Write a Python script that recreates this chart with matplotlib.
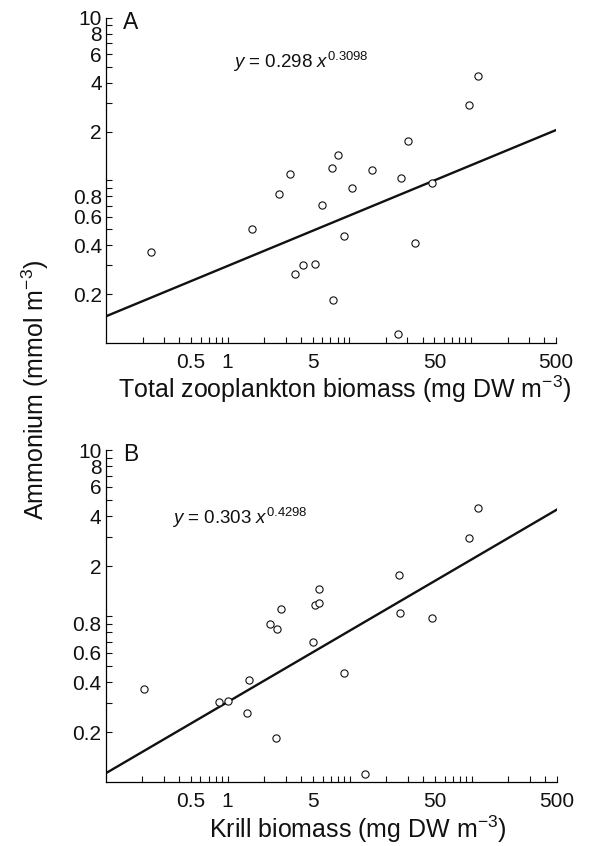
import matplotlib
matplotlib.use('Agg')
import matplotlib.pyplot as plt
import numpy as np

plt.rcParams['font.family'] = ['Liberation Sans', 'DejaVu Sans']
plt.rcParams['mathtext.fontset'] = 'custom'
plt.rcParams['mathtext.rm'] = 'Liberation Sans'
plt.rcParams['mathtext.it'] = 'Liberation Sans:italic'

# Panel A: total zooplankton biomass vs ammonium
zoo_x = [0.233, 1.58, 2.63, 3.26, 3.56, 4.20, 5.21, 5.98, 7.14, 7.32, 8.10,
         9.02, 10.56, 15.3, 25.2, 26.4, 30.5, 34.8, 48.0, 95.6, 113.4]
zoo_y = [0.365, 0.50, 0.826, 1.10, 0.264, 0.302, 0.308, 0.702, 1.19, 0.185, 1.44,
         0.455, 0.896, 1.16, 0.114, 1.04, 1.74, 0.414, 0.966, 2.93, 4.38]
zoo_fit = (0.298, 0.3098)

# Panel B: krill biomass vs ammonium
krill_x = [0.205, 0.857, 1.00, 1.43, 1.49, 2.23, 2.54, 2.72, 2.48, 4.97, 5.20,
           5.57, 5.57, 8.92, 13.4, 25.5, 25.9, 47.7, 95.2, 112.8]
krill_y = [0.362, 0.302, 0.306, 0.262, 0.412, 0.898, 0.830, 1.105, 0.183, 0.699, 1.168,
           1.20, 1.446, 0.454, 0.112, 1.756, 1.046, 0.966, 2.97, 4.48]
krill_fit = (0.303, 0.4298)

x_ticks = [0.2, 0.3, 0.4, 0.5, 0.6, 0.7, 0.8, 0.9, 1, 2, 3, 4, 5, 6, 7, 8, 9,
           10, 20, 30, 40, 50, 60, 70, 80, 90, 100, 200, 300, 400, 500]
x_labels = {0.5: '0.5', 1: '1', 5: '5', 50: '50', 500: '500'}
y_ticks = [0.2, 0.3, 0.4, 0.5, 0.6, 0.7, 0.8, 0.9, 1, 2, 3, 4, 5, 6, 7, 8, 9, 10]
y_labels = {0.2: '0.2', 0.4: '0.4', 0.6: '0.6', 0.8: '0.8',
            2: '2', 4: '4', 6: '6', 8: '8', 10: '10'}


def panel(ax, xs, ys, fit, letter, xlabel, eq_pos, labelpad, label_x, y8_at=0.8):
    a, b = fit
    xx = np.array([0.1, 500])
    ax.plot(xx, a * xx ** b, color='#111111', lw=1.7, zorder=2)
    ax.plot(xs, ys, 'o', ms=5.2, mfc='white', mec='#111111', mew=0.8,
            zorder=3, clip_on=False)
    ax.set_xscale('log')
    ax.set_yscale('log')
    ax.set_xlim(0.1, 500)
    ax.set_ylim(0.1, 10)
    for s in ['top', 'right']:
        ax.spines[s].set_visible(False)
    for s in ['left', 'bottom']:
        ax.spines[s].set_linewidth(0.9)
    ax.minorticks_off()
    ax.set_xticks(x_ticks)
    ax.set_xticklabels([x_labels.get(t, '') for t in x_ticks])
    # the reference draws the 0.8 label of panel B a little high
    yt = [t for t in y_ticks]
    ylab = [y_labels.get(t, '') for t in y_ticks]
    if y8_at != 0.8:
        ylab[yt.index(0.8)] = ''
        ylab[yt.index(y8_at)] = '0.8'
    ax.set_yticks(yt)
    ax.set_yticklabels(ylab)
    ax.tick_params(direction='in', length=4.5, width=0.8, labelsize=15,
                   colors='#111111')
    ax.tick_params(axis='y', pad=3)
    ax.tick_params(axis='x', pad=7)
    ax.set_xlabel(xlabel, fontsize=18, labelpad=labelpad, color='#111111')
    ax.xaxis.label.set_x(label_x)
    ax.text(0.038, 0.985, letter, transform=ax.transAxes, fontsize=16.5,
            va='center', ha='left', color='#111111')
    ax.text(eq_pos[0], eq_pos[1], r'$y$ = %.3f $x^{%.4f}$' % (a, b),
            transform=ax.transAxes, fontsize=13.5, va='center', ha='left',
            color='#111111')


fig = plt.figure(figsize=(5.91, 8.46), dpi=100)
ax1 = fig.add_axes([106 / 591, 1 - 343 / 846, 450 / 591, 325 / 846])
ax2 = fig.add_axes([105.5 / 591, 1 - 782 / 846, 451.5 / 591, 332 / 846])

panel(ax1, zoo_x, zoo_y, zoo_fit, 'A',
      r'Total zooplankton biomass (mg DW m$^{-3}$)', (0.283, 0.865), 1, 0.531)
panel(ax2, krill_x, krill_y, krill_fit, 'B',
      r'Krill biomass (mg DW m$^{-3}$)', (0.148, 0.795), 2, 0.559, y8_at=0.9)

fig.text(0.06, 1 - 390 / 846, r'Ammonium (mmol m$^{-3}$)', rotation=90,
         fontsize=18, ha='center', va='center', color='#111111')

fig.savefig('out.png', dpi=100, facecolor='white')
